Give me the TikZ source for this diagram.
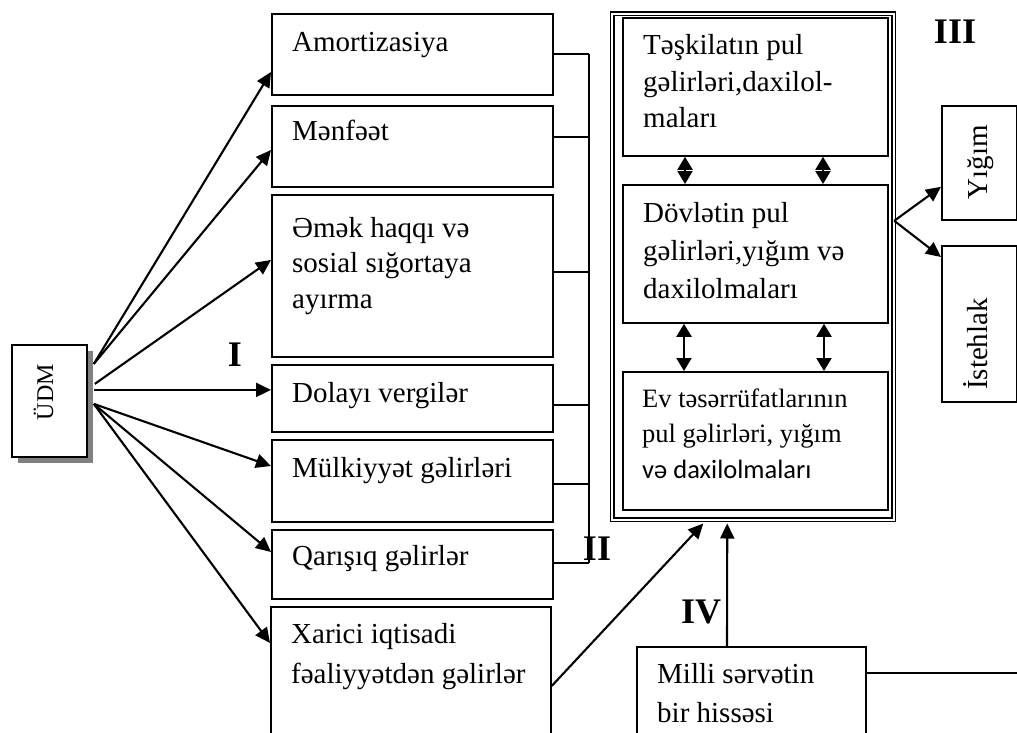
\documentclass[tikz,border=0pt]{standalone}
\usepackage{fontspec}
\setmainfont{Liberation Serif}
\newfontfamily\calfont{Carlito}
\usetikzlibrary{arrows.meta,calc,shadows}

\tikzset{
	box/.style={draw, line width=1.8pt, anchor=north west, inner sep=0pt},
	txt/.style={anchor=base west, align=left, inner sep=0pt, font=\fontsize{29}{37}\selectfont},
	rtxt/.style={anchor=base, rotate=90, inner sep=0pt, font=\fontsize{29}{29}\selectfont},
	roman/.style={inner sep=0pt, font=\bfseries\fontsize{36}{36}\selectfont},
	arr/.style={line width=2.1pt, -{Triangle[length=15pt,width=14pt]}},
	dbl/.style={line width=2.1pt, {Triangle[length=13pt,width=15pt]}-{Triangle[length=13pt,width=15pt]}},
	bus/.style={line width=1.5pt},
}

\begin{document}
\begin{tikzpicture}[x=1pt, y=-1pt]
	\useasboundingbox (0, 0) rectangle (1017, 733);
	\clip (0, 0) rectangle (1017, 733);

	\node[box, fill=white, minimum width=75, minimum height=112,
		drop shadow={shadow xshift=6pt, shadow yshift=-6pt, fill=black!50, opacity=1}] (udm) at (11, 344) {};
	\node[rtxt, font=\fontsize{24}{24}\selectfont] (udm-t) at (53, 392) {ÜDM};

	\node[box, minimum width=281, minimum height=81] (amort) at (271, 13) {};
	\node[box, minimum width=281, minimum height=81] (menf) at (271, 105) {};
	\node[box, minimum width=281, minimum height=162] (emek) at (271, 194) {};
	\node[box, minimum width=281, minimum height=67] (dolayi) at (271, 364) {};
	\node[box, minimum width=281, minimum height=82] (mulk) at (271, 439) {};
	\node[box, minimum width=281, minimum height=69] (qar) at (271, 529) {};
	\node[box, minimum width=280, minimum height=158] (xar) at (270, 606) {};

	\node[txt] (amort-t) at ($(amort.north west)+(21, 39)$) {Amortizasiya};
	\node[txt] (menf-t) at ($(menf.north west)+(21, 36)$) {Mənfəət};
	\node[txt, font=\fontsize{29}{35.5}\selectfont] (emek-t) at ($(emek.north west)+(21, 114)$) {Əmək haqqı və\\sosial sığortaya\\ayırma};
	\node[txt] (dolayi-t) at ($(dolayi.north west)+(21, 38)$) {Dolayı vergilər};
	\node[txt] (mulk-t) at ($(mulk.north west)+(21, 38)$) {Mülkiyyət gəlirləri};
	\node[txt] (qar-t) at ($(qar.north west)+(21, 36)$) {Qarışıq gəlirlər};
	\node[txt, font=\fontsize{29}{40}\selectfont] (xar-t) at ($(xar.north west)+(21, 77)$) {Xarici iqtisadi\\fəaliyyətdən gəlirlər};

	\node[box, minimum width=281.5, minimum height=506, line width=1.5pt, double, double distance=2pt] (cont) at (611.25, 13) {};
	\node[box, minimum width=265, minimum height=138] (te) at (622, 17) {};
	\node[box, minimum width=265, minimum height=138] (dov) at (622, 184) {};
	\node[box, minimum width=265, minimum height=138] (ev) at (622, 371) {};

	\node[txt, font=\fontsize{29}{36.5}\selectfont] (te-t) at ($(te.north west)+(21, 111)$) {Təşkilatın pul\\gəlirləri,daxilol-\\maları};
	\node[txt, font=\fontsize{29}{38}\selectfont] (dov-t) at ($(dov.north west)+(21, 114)$) {Dövlətin pul\\gəlirləri,yığım və\\daxilolmaları};
	\node[txt, font=\fontsize{26.5}{35.5}\selectfont] (ev-t) at ($(ev.north west)+(20, 107)$) {Ev təsərrüfatlarının\\pul gəlirləri, yığım\\{\calfont və daxilolmaları}};

	\node[box, minimum width=75, minimum height=114] (yig) at (941, 105) {};
	\node[box, minimum width=75, minimum height=156] (ist) at (941, 245) {};
	\node[rtxt] (yig-t) at (987, 162) {Yığım};
	\node[rtxt] (ist-t) at (987, 344) {İstehlak};

	\node[box, minimum width=229, minimum height=150] (milli) at (636, 646) {};
	\node[txt, font=\fontsize{29}{39}\selectfont] (milli-t) at ($(milli.north west)+(21, 76)$) {Milli sərvətin\\bir hissəsi};

	\coordinate (o1) at ($(udm.east)+(6, -37)$);
	\coordinate (o2) at ($(udm.east)+(7, -17)$);
	\coordinate (o3) at ($(udm.east)+(6, -11)$);
	\coordinate (o4) at ($(udm.east)+(6, 3)$);

	\draw[arr] (o1) -- (amort.west |- 0,72);
	\draw[arr] (o1) -- (menf.west |- 0,150);
	\draw[arr] (o2) -- (emek.west |- 0,260);
	\draw[arr] (o3) -- (dolayi.west |- o3);
	\draw[arr] (o4) -- (mulk.west |- 0,466);
	\draw[arr] (o4) -- (qar.west |- 0,552);
	\draw[arr] (o4) -- (xar.west |- 0,643);

	\coordinate (bustop) at (589, 54);
	\coordinate (busbot) at (589, 563);
	\draw[bus] (bustop) -- (busbot);
	\draw[bus] (amort.east |- bustop) -- (bustop);
	\draw[bus] (menf.east |- 0,137) -- (bustop |- 0,137);
	\draw[bus] (emek.east |- 0,272) -- (bustop |- 0,272);
	\draw[bus] (dolayi.east |- 0,405) -- (bustop |- 0,405);
	\draw[bus] (mulk.east |- 0,484) -- (bustop |- 0,484);
	\draw[bus] (qar.east |- busbot) -- (busbot);

	\draw[dbl] ($(te.south west)+(63, 0)$) -- ($(dov.north west)+(63, 0)$);
	\draw[dbl] ($(te.south west)+(201, 0)$) -- ($(dov.north west)+(201, 0)$);
	\draw[dbl] ($(dov.south west)+(62, 0)$) -- ($(ev.north west)+(62, 0)$);
	\draw[dbl] ($(dov.south west)+(202, 0)$) -- ($(ev.north west)+(202, 0)$);

	\draw[arr] (cont.east |- yig.south) -- ($(yig.south west)+(0, -34)$);
	\draw[arr] (cont.east |- yig.south) -- ($(ist.north west)+(0, 12)$);

	\draw[arr] (xar.east) -- ($(cont.south west)+(92, 3)$);
	\draw[arr] ($(milli.north west)+(91, 0)$) -- ($(cont.south west)+(116, 3)$);

	\coordinate (edge) at (1017, 673);
	\draw[bus] (milli.east |- edge) -- (edge);

	\node[roman] (r1) at (235, 355) {I};
	\node[roman] (r2) at (597, 549) {II};
	\node[roman] (r3) at (955, 32) {III};
	\node[roman] (r4) at (701, 612) {IV};

\end{tikzpicture}
\end{document}
